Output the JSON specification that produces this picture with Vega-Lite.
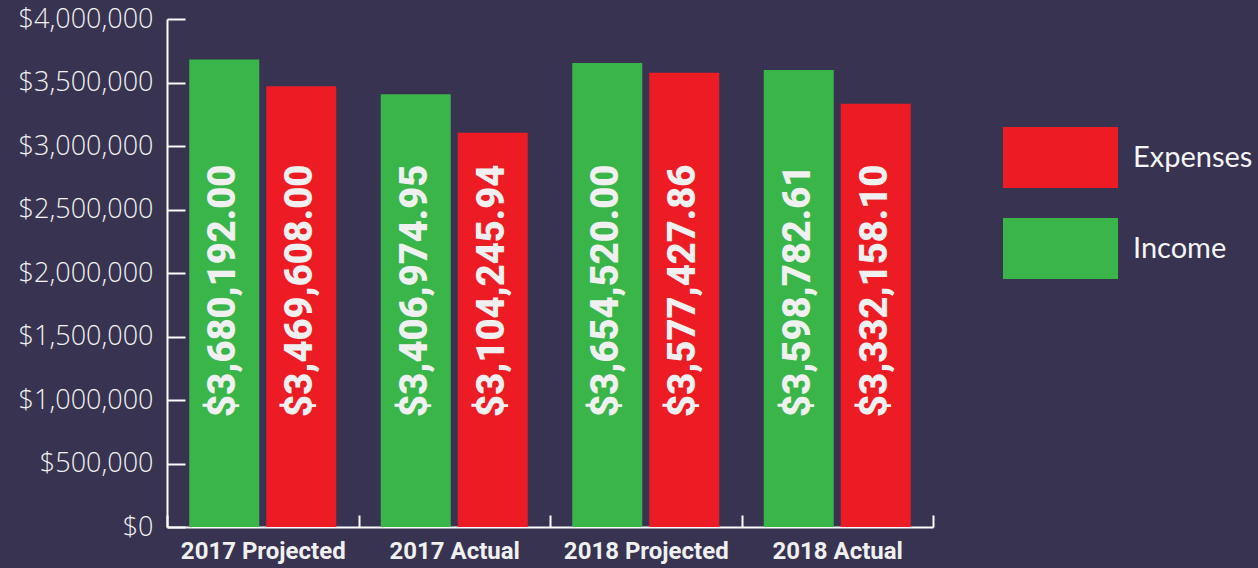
{
  "$schema": "https://vega.github.io/schema/vega-lite/v6.json",
  "width": 766,
  "height": 508,
  "autosize": "none",
  "padding": {"left": 167, "top": 19, "right": 325, "bottom": 41},
  "background": "#373350",
  "config": {"view": {"stroke": null}},
  "data": {
    "values": [
      {"period": "2017 Projected", "type": "Income", "value": 3680192.00},
      {"period": "2017 Projected", "type": "Expenses", "value": 3469608.00},
      {"period": "2017 Actual", "type": "Income", "value": 3406974.95},
      {"period": "2017 Actual", "type": "Expenses", "value": 3104245.94},
      {"period": "2018 Projected", "type": "Income", "value": 3654520.00},
      {"period": "2018 Projected", "type": "Expenses", "value": 3577427.86},
      {"period": "2018 Actual", "type": "Income", "value": 3598782.61},
      {"period": "2018 Actual", "type": "Expenses", "value": 3332158.10}
    ]
  },
  "encoding": {
    "x": {
      "field": "period",
      "type": "nominal",
      "sort": ["2017 Projected", "2017 Actual", "2018 Projected", "2018 Actual"],
      "scale": {"paddingInner": 0, "paddingOuter": 0},
      "axis": {
        "title": null,
        "labelAngle": 0,
        "labelFont": "Roboto",
        "labelFontWeight": "bold",
        "labelFontSize": 24,
        "labelColor": "#f0f0f0",
        "labelPadding": 24,
        "domainColor": "#ffffff",
        "domainWidth": 2,
        "tickColor": "#ffffff",
        "tickWidth": 2,
        "tickSize": -12,
        "tickBand": "extent"
      }
    },
    "xOffset": {
      "field": "type",
      "type": "nominal",
      "sort": ["Income", "Expenses"],
      "scale": {"domain": ["Income", "Expenses"], "paddingInner": 0.091, "paddingOuter": 0.289}
    }
  },
  "layer": [
    {
      "mark": {"type": "bar"},
      "encoding": {
        "y": {
          "field": "value",
          "type": "quantitative",
          "scale": {"domain": [0, 4000000], "nice": false},
          "axis": {
            "title": null,
            "format": "$,.0f",
            "values": [0, 500000, 1000000, 1500000, 2000000, 2500000, 3000000, 3500000, 4000000],
            "labelFont": "Open Sans",
            "labelFontWeight": 300,
            "labelFontSize": 27,
            "labelColor": "#f2f2f2",
            "labelPadding": 32,
            "domainColor": "#ffffff",
            "domainWidth": 2,
            "tickColor": "#ffffff",
            "tickWidth": 2,
            "tickSize": -18,
            "grid": false
          }
        },
        "color": {
          "field": "type",
          "type": "nominal",
          "scale": {"domain": ["Expenses", "Income"], "range": ["#ed1c24", "#3ab54a"]},
          "legend": {
            "title": null,
            "orient": "none",
            "legendX": 836,
            "legendY": 81,
            "symbolType": "M-1,-0.53H1V0.53H-1Z",
            "symbolSize": 13225,
            "symbolStrokeWidth": 0,
            "symbolOpacity": 1,
            "rowPadding": 3,
            "labelOffset": 15,
            "labelFont": "Lato",
            "labelFontSize": 29,
            "labelColor": "#f5f5f5"
          }
        }
      }
    },
    {
      "mark": {
        "type": "text",
        "angle": 270,
        "align": "center",
        "baseline": "middle",
        "font": "Roboto",
        "fontWeight": 900,
        "fontSize": 38,
        "color": "#f0f0f0"
      },
      "encoding": {
        "y": {"datum": 1860000, "type": "quantitative"},
        "text": {"field": "value", "type": "quantitative", "format": "$,.2f"}
      }
    }
  ]
}
